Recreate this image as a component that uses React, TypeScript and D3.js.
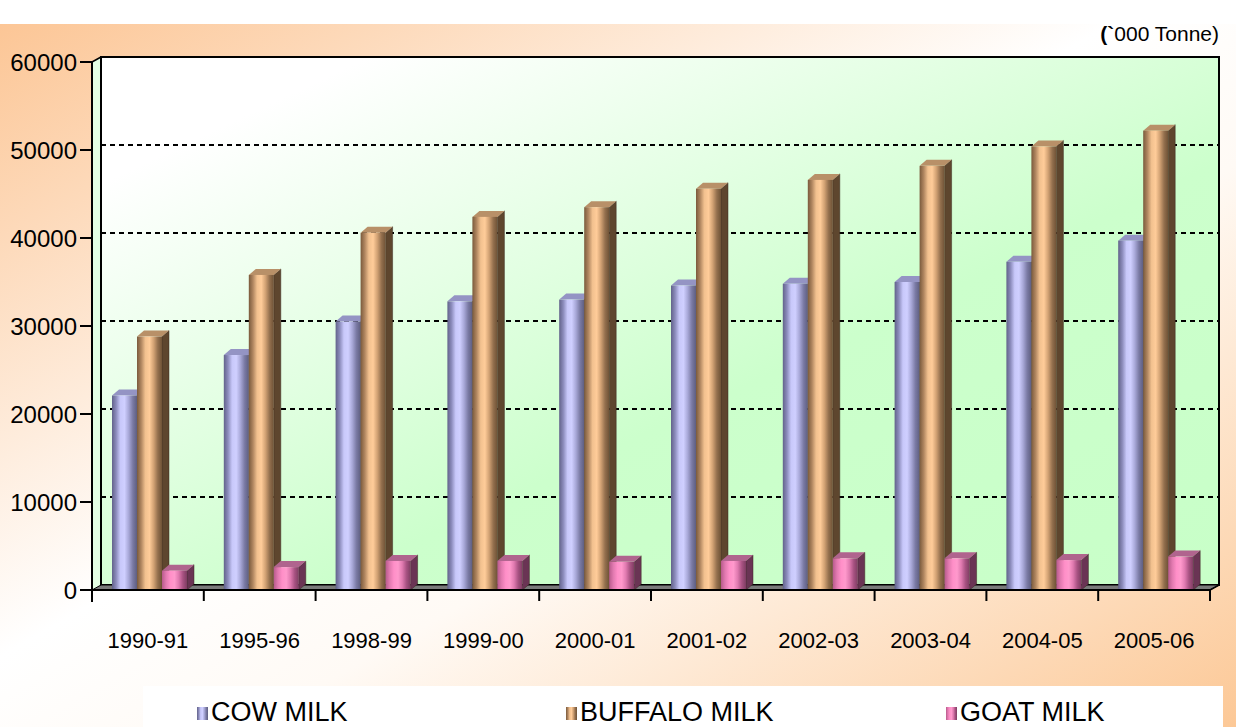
import React from 'react';
import * as d3 from 'd3';

// 数据
const categories = ['1990-91', '1995-96', '1998-99', '1999-00', '2000-01', '2001-02', '2002-03', '2003-04', '2004-05', '2005-06'];
const seriesNames = ['COW MILK', 'BUFFALO MILK', 'GOAT MILK'];
const cowMilk = [22100, 26700, 30500, 32800, 33000, 34600, 34800, 35000, 37300, 39700];
const buffaloMilk = [28800, 35800, 40600, 42400, 43500, 45600, 46600, 48200, 50400, 52200];
const goatMilk = [2200, 2600, 3300, 3300, 3200, 3300, 3600, 3600, 3400, 3800];
const yTicks = [0, 10000, 20000, 30000, 40000, 50000, 60000];

const seriesValues = [cowMilk, buffaloMilk, goatMilk];

// 每个系列的颜色：正面渐变、顶面、侧面
const palette = [
  {
    front: ['#62628a', '#8c8cbc', '#c8c8fa', '#cfcfff', '#a8a8d8', '#7a7aa4', '#5e5e80'],
    top: '#9494c4',
    side: '#4e4e72',
  },
  {
    front: ['#7a5a3c', '#b08660', '#f2c18f', '#ffcc99', '#d2a274', '#94704e', '#6e5236'],
    top: '#b89068',
    side: '#5e462e',
  },
  {
    front: ['#b85a8c', '#e27ab0', '#ff8fc8', '#ff99cc', '#e07ab0', '#a85282', '#7e3d62'],
    top: '#b0648e',
    side: '#6a3454',
  },
];

const W = 1236;
const H = 727;
const WALL_DX = 9;
const WALL_DY = -5;
const BAR_DX = 7;
const BAR_DY = -6;

export default function App() {
  const x0 = d3.scaleBand<string>().domain(categories).range([92, 1210]);
  const xs = d3.scaleBand<string>().domain(seriesNames).range([20, 95]);
  const y = d3.scaleLinear().domain([0, 60000]).range([590, 62]);

  const left = x0.range()[0];
  const right = x0.range()[1];
  const bottom = y(0);
  const top = y(60000);
  const tickXs = categories.map(c => x0(c) as number).concat([right]);

  const bw = xs.bandwidth();

  return (
    <svg width={W} height={H} style={{ display: 'block', position: 'absolute', left: 0, top: 0 }}
      fontFamily="Arial, 'Liberation Sans', sans-serif">
      <defs>
        <linearGradient id="bg" x1="0" y1="0" x2="1" y2="1">
          <stop offset="0" stopColor="#fcc696" />
          <stop offset="0.45" stopColor="#ffffff" />
          <stop offset="0.6" stopColor="#fffaf5" />
          <stop offset="1" stopColor="#fcc896" />
        </linearGradient>
        <linearGradient id="wall" x1="0" y1="0" x2="1" y2="1">
          <stop offset="0" stopColor="#ffffff" />
          <stop offset="0.12" stopColor="#ffffff" />
          <stop offset="0.6" stopColor="#ccffcc" />
          <stop offset="1" stopColor="#c8ffc8" />
        </linearGradient>
        {palette.map((p, i) => (
          <linearGradient key={i} id={`front${i}`} x1="0" y1="0" x2="1" y2="0">
            {p.front.map((c, j) => (
              <stop key={j} offset={j / (p.front.length - 1)} stopColor={c} />
            ))}
          </linearGradient>
        ))}
      </defs>

      {/* 背景 */}
      <rect x={0} y={0} width={W} height={H} fill="#ffffff" />
      <rect x={0} y={24} width={W} height={H - 24} fill="url(#bg)" />

      {/* 左侧墙 */}
      <polygon
        points={`${left},${top} ${left + WALL_DX},${top + WALL_DY} ${left + WALL_DX},${bottom + WALL_DY} ${left},${bottom}`}
        fill="#e4ffe4" />
      {/* 背面墙 */}
      <rect x={left + WALL_DX} y={top + WALL_DY} width={right - left} height={bottom - top}
        fill="url(#wall)" stroke="#000" strokeWidth={2} />

      {/* 网格线 */}
      {yTicks.filter(v => v > 0).map(v => (
        <line key={v} x1={left + WALL_DX} x2={right + WALL_DX} y1={y(v) + WALL_DY} y2={y(v) + WALL_DY}
          stroke="#000" strokeWidth={2} strokeDasharray="5,4" />
      ))}

      {/* 地板 */}
      <polygon
        points={`${left},${bottom} ${right},${bottom} ${right + WALL_DX},${bottom + WALL_DY} ${left + WALL_DX},${bottom + WALL_DY}`}
        fill="#7a7a7a" stroke="#000" strokeWidth={1} />
      <line x1={left + WALL_DX} x2={left + WALL_DX} y1={top + WALL_DY} y2={bottom + WALL_DY} stroke="#000" strokeWidth={1.5} />
      <line x1={left} y1={top} x2={left + WALL_DX} y2={top + WALL_DY} stroke="#000" strokeWidth={1.5} />

      {/* 柱子 */}
      {categories.map((cat, ci) => (
        <g key={cat}>
          {seriesNames.map((s, si) => {
            const bx = (x0(cat) as number) + (xs(s) as number);
            const by = y(seriesValues[si][ci]);
            const p = palette[si];
            return (
              <g key={s}>
                <polygon
                  points={`${bx + bw},${by} ${bx + bw + BAR_DX},${by + BAR_DY} ${bx + bw + BAR_DX},${bottom + BAR_DY} ${bx + bw},${bottom}`}
                  fill={p.side} stroke="#3a2a20" strokeWidth={0.5} />
                <polygon
                  points={`${bx},${by} ${bx + BAR_DX},${by + BAR_DY} ${bx + bw + BAR_DX},${by + BAR_DY} ${bx + bw},${by}`}
                  fill={p.top} />
                <rect x={bx} y={by} width={bw} height={bottom - by} fill={`url(#front${si})`} />
              </g>
            );
          })}
        </g>
      ))}

      {/* 坐标轴 */}
      <line x1={left} x2={left} y1={top} y2={bottom + 12} stroke="#000" strokeWidth={2} />
      <line x1={left} x2={right} y1={bottom} y2={bottom} stroke="#000" strokeWidth={2} />
      <line x1={right} y1={bottom} x2={right + WALL_DX} y2={bottom + WALL_DY} stroke="#000" strokeWidth={1.5} />
      {yTicks.map(v => (
        <g key={v}>
          <line x1={left - 12} x2={left} y1={y(v)} y2={y(v)} stroke="#000" strokeWidth={2} />
          <text x={77} y={y(v)} dy="0.36em" textAnchor="end" fontSize={24} fill="#000">{v}</text>
        </g>
      ))}
      {tickXs.map((tx, i) => (
        <line key={i} x1={tx} x2={tx} y1={bottom} y2={bottom + 11} stroke="#000" strokeWidth={2} />
      ))}
      {categories.map(cat => (
        <text key={cat} x={(x0(cat) as number) + x0.bandwidth() / 2} y={648} textAnchor="middle" fontSize={22} fill="#000">
          {cat}
        </text>
      ))}

      {/* 单位 */}
      <text x={1219} y={41} textAnchor="end" fontSize={21} fill="#000">
        <tspan fontWeight="bold">(`</tspan>000 Tonne)
      </text>

      {/* 图例 */}
      <rect x={143} y={686} width={1080} height={50} fill="#ffffff" />
      {seriesNames.map((s, i) => {
        const lx = [197, 566, 946][i];
        return (
          <g key={s}>
            <rect x={lx} y={707} width={11} height={13} fill={`url(#front${i})`} />
            <text x={lx + 14} y={721} fontSize={27} fill="#000">{s}</text>
          </g>
        );
      })}
    </svg>
  );
}
